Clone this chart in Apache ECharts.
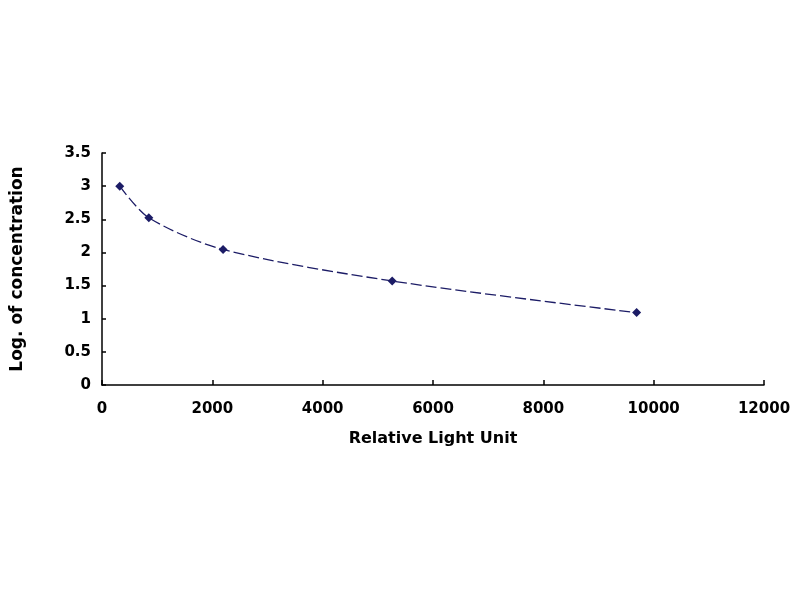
<!DOCTYPE html>
<html style="height: 100%">

<head>
    <meta charset="utf-8">
</head>

<body style="height: 100%; margin: 0; background: #ffffff;">
    <div id="container" style="width: 800px; height: 600px"></div>

    <script type="text/javascript" src="https://cdn.jsdelivr.net/npm/echarts@6/dist/echarts.min.js"></script>
    <script type="text/javascript">
        // standard curve points
        var rlu = [322, 849, 2194, 5260, 9691];
        var logConc = [3.0, 2.523, 2.046, 1.569, 1.092];

        var xName = 'Relative Light Unit';
        var yName = 'Log. of concentration';

        var fontFam = 'DejaVu Sans';
        var ink = '#000000';
        var navy = '#1c1c66';

        var points = rlu.map(function (v, i) {
            return [v, logConc[i]];
        });

        var dom = document.getElementById('container');
        var myChart = echarts.init(dom, null, { renderer: 'canvas' });

        var option = {
            backgroundColor: '#ffffff',
            animation: false,
            grid: {
                left: 102,
                right: 36,
                top: 153,
                bottom: 215
            },
            xAxis: {
                type: 'value',
                min: 0,
                max: 12000,
                interval: 2000,
                name: xName,
                nameLocation: 'middle',
                nameGap: 46,
                nameTextStyle: {
                    color: ink,
                    fontFamily: fontFam,
                    fontWeight: 'bold',
                    fontSize: 16
                },
                axisLine: { lineStyle: { color: ink, width: 1.5 } },
                axisTick: { inside: true, length: 5, lineStyle: { color: ink, width: 1.5 } },
                axisLabel: {
                    margin: 17,
                    color: ink,
                    fontFamily: fontFam,
                    fontWeight: 'bold',
                    fontSize: 15,
                    formatter: function (v) { return String(v); }
                },
                splitLine: { show: false }
            },
            yAxis: {
                type: 'value',
                min: 0,
                max: 3.5,
                interval: 0.5,
                name: yName,
                nameLocation: 'middle',
                nameGap: 76,
                nameTextStyle: {
                    color: ink,
                    fontFamily: fontFam,
                    fontWeight: 'bold',
                    fontSize: 17
                },
                axisLine: { show: true, lineStyle: { color: ink, width: 1.5 } },
                axisTick: { show: true, inside: true, length: 4, lineStyle: { color: ink, width: 1.5 } },
                axisLabel: {
                    margin: 11,
                    color: ink,
                    fontFamily: fontFam,
                    fontWeight: 'bold',
                    fontSize: 15
                },
                splitLine: { show: false }
            },
            series: [{
                type: 'line',
                data: points,
                smooth: 0.3,
                symbol: 'diamond',
                symbolSize: 9,
                itemStyle: { color: navy },
                lineStyle: {
                    color: navy,
                    width: 1.3,
                    type: [11, 4]
                }
            }]
        };

        myChart.setOption(option);
    </script>
</body>

</html>
